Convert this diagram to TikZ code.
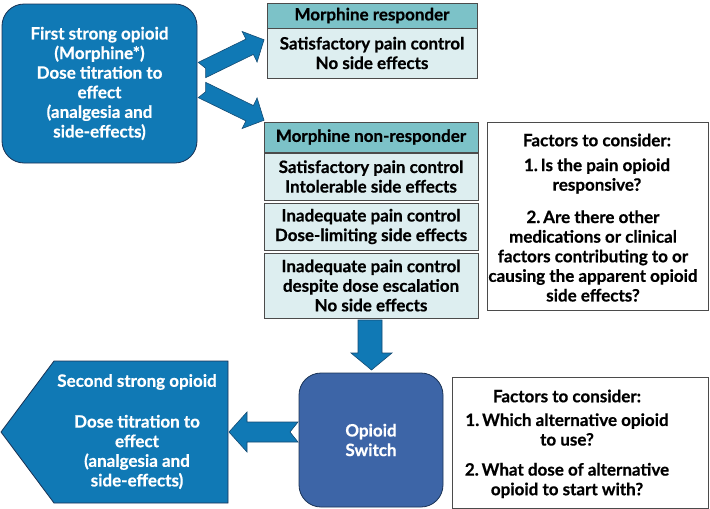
\documentclass[tikz,border=0pt]{standalone}
\usepackage{fontspec}
\setmainfont{Lato}[BoldFeatures={FakeBold=0.6}]
\definecolor{blueA}{RGB}{16,121,181}
\definecolor{navy}{RGB}{25,50,85}
\definecolor{switchc}{RGB}{61,101,167}
\definecolor{tealh}{RGB}{124,194,200}
\definecolor{lightb}{RGB}{221,238,240}
\definecolor{boxline}{RGB}{75,75,75}
\definecolor{arrowline}{RGB}{20,75,115}
\newcommand{\tf}{\fontsize{17}{19.6}\selectfont\bfseries}
\tikzset{
  bluebox/.style={draw=navy, line width=0.8pt, fill=blueA, rounded corners=22pt, text=white, align=center, inner sep=0pt, font=\tf},
  switchbox/.style={draw=navy, line width=0.8pt, fill=switchc, rounded corners=22pt, text=white, align=center, inner sep=0pt, font=\tf},
  headbox/.style={draw=boxline, line width=0.8pt, fill=tealh, align=center, inner sep=0pt, font=\tf},
  bodybox/.style={draw=boxline, line width=0.8pt, fill=lightb, align=center, inner sep=0pt, font=\tf},
  factbox/.style={draw=boxline, line width=0.8pt, fill=white, inner sep=0pt},
  txt/.style={align=center, inner sep=0pt, font=\tf},
  wtxt/.style={align=center, inner sep=0pt, font=\tf, text=white},
  blockarrow/.style={fill=blueA, draw=arrowline, line width=0.6pt, line join=miter}
}
\begin{document}
\begin{tikzpicture}[x=1pt,y=-1pt]
\useasboundingbox (0,0) rectangle (710,509);

% first box
\node[bluebox, minimum width=195pt, minimum height=159pt] (first) at (99.5,83.5)
  {First strong opioid\\(Morphine*)\\Dose titration to\\effect\\(analgesia and\\side-effects)};

% block arrows from first box
\begin{scope}[shift={(202,70)}, rotate=26]
  \path[blockarrow] (0,-8.5) -- (53,-8.5) -- (53,-17) -- (69,0) -- (53,17) -- (53,8.5) -- (0,8.5) -- (4,0) -- cycle;
\end{scope}
\begin{scope}[shift={(202,90)}, rotate=-26]
  \path[blockarrow] (0,-8.5) -- (53,-8.5) -- (53,-17) -- (69,0) -- (53,17) -- (53,8.5) -- (0,8.5) -- (4,0) -- cycle;
\end{scope}

% responder
\node[headbox, minimum width=210pt, minimum height=25pt] (resph) at (372,15.5) {Morphine responder};
\node[bodybox, minimum width=210pt, minimum height=50pt] (respb) at (372,53) {Satisfactory pain control\\No side effects};

% non-responder stack
\node[headbox, minimum width=214pt, minimum height=30pt] (nonh) at (371,137) {Morphine non-responder};
\node[bodybox, minimum width=214pt, minimum height=47pt] (non1) at (371,176.5) {Satisfactory pain control\\Intolerable side effects};
\node[bodybox, minimum width=214pt, minimum height=47pt] (non2) at (371,226.5) {Inadequate pain control\\Dose-limiting side effects};
\node[bodybox, minimum width=214pt, minimum height=65pt] (non3) at (371,285.5) {Inadequate pain control\\despite dose escalation\\No side effects};

% factors 1
\node[factbox, minimum width=221pt, minimum height=188pt] (fact1) at (597.5,216) {};
\node[txt] (f1a) at (597,140) {Factors to consider:};
\node[txt] (f1b) at (597,176) {1.\,Is the pain opioid\\responsive?};
\node[txt] (f1c) at (593,256) {2.\,Are there other\\medications or clinical\\factors contributing to or\\causing the apparent opioid\\side effects?};

% down arrow
\path[blockarrow] (358,320) -- (382,320) -- (382,353) -- (392,353) -- (371.5,370) -- (351,353) -- (358,353) -- cycle;

% left arrow
\path[blockarrow] (298,422) -- (247,422) -- (247,412) -- (229,432) -- (247,452) -- (247,442) -- (298,442) -- (290,432) -- cycle;

% opioid switch
\node[switchbox, minimum width=144pt, minimum height=134pt] (switch) at (371,440) {Opioid\\Switch};

% second strong opioid pentagon
\path[fill=blueA, draw=navy, line width=0.8pt] (1,432) -- (54,361) -- (228,361) -- (228,503) -- (54,503) -- cycle;
\coordinate (second) at (137,432);
\node[wtxt] (s1) at (137,382) {Second strong opioid};
\node[wtxt] (s2) at (137,452) {Dose titration to\\effect\\(analgesia and\\side-effects)};

% factors 2
\node[factbox, minimum width=256pt, minimum height=131pt] (fact2) at (580,442.5) {};
\node[txt] (f2a) at (567,396) {Factors to consider:};
\node[txt] (f2b) at (567,429.5) {1.\,Which alternative opioid\\to use?};
\node[txt] (f2c) at (567,480.5) {2.\,What dose of alternative\\opioid to start with?};
\end{tikzpicture}
\end{document}
